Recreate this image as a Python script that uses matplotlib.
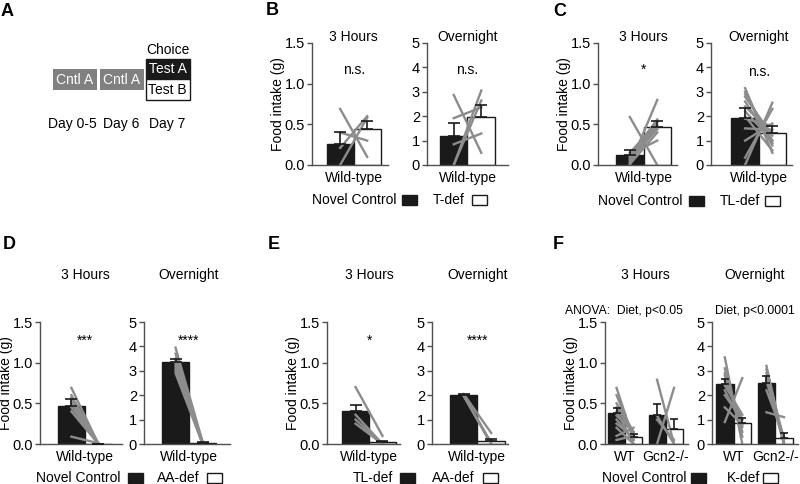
import numpy as np
import matplotlib.pyplot as plt
from matplotlib.patches import Rectangle

plt.rcParams['font.family'] = ['Liberation Sans', 'DejaVu Sans']
plt.rcParams['font.size'] = 10

BLACK = '#1a1a1a'
GREY = '#8c8c8c'
BOXGREY = '#808080'
AXC = '#505050'
W, H = 800, 484

# ---------------- data: food intake (g) ----------------
# B  novel control vs T-def, wild-type
b3_mean = [0.26, 0.44]
b3_err = [0.14, 0.10]
b3_ctrl = [0.69, 0.00, 0.21, 0.40]
b3_test = [0.10, 0.58, 0.60, 0.30]
bon_mean = [1.18, 1.98]
bon_err = [0.55, 0.47]
bon_ctrl = [2.87, 0.00, 1.92, 0.85, 0.00]
bon_test = [0.50, 2.64, 2.36, 1.29, 3.05]

# C  novel control vs TL-def
c3_mean = [0.12, 0.47]
c3_err = [0.07, 0.07]
c3_ctrl = [0.59, 0.00, 0.03, 0.07, 0.09, 0.13, 0.11, 0.05, 0.01, 0.15]
c3_test = [0.00, 0.80, 0.54, 0.44, 0.49, 0.30, 0.56, 0.46, 0.40, 0.52]
con_mean = [1.92, 1.33]
con_err = [0.40, 0.27]
con_ctrl = [3.15, 3.0, 2.9, 2.8, 2.6, 2.4, 2.2, 1.9, 1.5, 0.0, 0.3, 1.0, 2.0]
con_test = [0.5, 0.8, 1.0, 1.2, 0.9, 1.3, 1.0, 1.6, 1.45, 2.55, 2.3, 1.7, 0.6]

# D  novel control vs AA-def
d3_mean = [0.47, 0.0]
d3_err = [0.08, 0.0]
d3_ctrl = [0.69, 0.60, 0.57, 0.52, 0.45, 0.40, 0.09, 0.50]
d3_test = [0.0, 0.0, 0.0, 0.0, 0.0, 0.0, 0.01, 0.0]
don_mean = [3.35, 0.05]
don_err = [0.15, 0.02]
don_ctrl = [3.95, 3.7, 3.5, 3.4, 3.3, 3.2, 3.1, 3.0, 2.9]
don_test = [0.10, 0.05, 0.0, 0.05, 0.08, 0.0, 0.05, 0.10, 0.02]

# E  TL-def vs AA-def
e3_mean = [0.40, 0.02]
e3_err = [0.08, 0.02]
e3_ctrl = [0.70, 0.30, 0.36, 0.25]
e3_test = [0.10, 0.0, 0.0, 0.0]
eon_mean = [2.0, 0.12]
eon_err = [0.05, 0.08]
eon_ctrl = [2.05, 2.0, 1.98, 1.97]
eon_test = [0.45, 0.05, 0.0, 0.0]

# F  novel control vs K-def, WT and Gcn2-/-
f3_mean = [0.38, 0.08, 0.36, 0.18]
f3_err = [0.06, 0.04, 0.13, 0.13]
f3_wt_ctrl = [0.69, 0.6, 0.5, 0.45, 0.4, 0.35, 0.3, 0.25, 0.2, 0.1, 0.05]
f3_wt_test = [0.05, 0.1, 0.15, 0.1, 0.0, 0.15, 0.05, 0.08, 0.0, 0.2, 0.1]
f3_ko_ctrl = [0.79, 0.0, 0.30, 0.35]
f3_ko_test = [0.0, 0.69, 0.05, 0.0]
fon_mean = [2.45, 0.85, 2.52, 0.24]
fon_err = [0.20, 0.22, 0.28, 0.21]
fon_wt_ctrl = [3.55, 3.1, 2.9, 2.8, 2.6, 2.4, 2.2, 2.0, 1.5, 0.9]
fon_wt_test = [0.0, 0.3, 0.5, 0.7, 1.0, 1.2, 0.8, 1.0, 0.8, 2.7]
fon_ko_ctrl = [3.2, 3.05, 2.9, 2.75, 2.6, 2.2, 1.3]
fon_ko_test = [0.0, 0.1, 0.2, 0.0, 0.0, 0.3, 1.1]

fig = plt.figure(figsize=(8, 4.84), dpi=100)


def px_axes(x0, x1, y0, y1):
    return fig.add_axes([x0 / W, 1 - y1 / H, (x1 - x0) / W, (y1 - y0) / H])


def bar_panel(box, xlim, xs, means, errs, pairs, ymax, cats, catx,
              capsize=4.5, ylabel=False):
    ax = px_axes(*box)
    cols = [BLACK, 'white'] * (len(xs) // 2)
    ax.bar(xs, means, width=1, color=cols, edgecolor=BLACK, linewidth=1, zorder=1)
    for ctrl, test, xa, xb in pairs:
        for a, b in zip(ctrl, test):
            ax.plot([xa, xb], [a, b], color=GREY, lw=1.7, zorder=2)
    ax.errorbar(xs, means, yerr=[np.zeros(len(xs)), errs], fmt='none',
                ecolor=BLACK, elinewidth=1.2, capsize=capsize, capthick=1.2, zorder=3)
    ax.set_xlim(xlim)
    ax.set_ylim(0, ymax)
    if ymax < 2:
        ax.set_yticks([0, 0.5, 1.0, 1.5])
        ax.set_yticklabels(['0.0', '0.5', '1.0', '1.5'])
    else:
        ax.set_yticks(range(6))
    ax.set_xticks(catx)
    ax.set_xticklabels(cats)
    for s in ['top', 'right']:
        ax.spines[s].set_visible(False)
    for s in ['left', 'bottom']:
        ax.spines[s].set_color(AXC)
        ax.spines[s].set_linewidth(1)
    ax.tick_params(axis='y', direction='out', length=3.5, width=1, color=AXC,
                   pad=1.5, labelsize=10.5)
    ax.tick_params(axis='x', length=0, pad=4)
    if ylabel:
        ax.set_ylabel('Food intake (g)')
        ax.yaxis.set_label_coords(-27 / (box[1] - box[0]), 0.5)
    return ax


def note(ax, x, yfrac, s, va='center', size=10):
    ax.text(x, yfrac, s, transform=ax.get_xaxis_transform(), ha='center',
            va=va, fontsize=size, clip_on=False)


top = (43, 165)
bot = (322, 444)
two = [0, 1]
four = [0, 1, 2.38, 3.38]

# ---- B ----
ax = bar_panel((312, 388) + top, (-1.04, 1.77), two, b3_mean, b3_err,
               [(b3_ctrl, b3_test, 0, 1)], 1.5, ['Wild-type'], [0.5], ylabel=True)
note(ax, 0.5, 1.053, '3 Hours')
note(ax, 0.5, 0.775, 'n.s.')
ax = bar_panel((427, 508) + top, (-0.97, 1.97), two, bon_mean, bon_err,
               [(bon_ctrl, bon_test, 0, 1)], 5, ['Wild-type'], [0.5])
note(ax, 0.5, 1.053, 'Overnight')
note(ax, 0.5, 0.775, 'n.s.')

# ---- C ----
ax = bar_panel((598, 677) + top, (-1.16, 1.72), two, c3_mean, c3_err,
               [(c3_ctrl, c3_test, 0, 1)], 1.5, ['Wild-type'], [0.5], ylabel=True)
note(ax, 0.5, 1.053, '3 Hours')
note(ax, 0.5, 0.748, '*', va='baseline')
ax = bar_panel((711, 792) + top, (-1.25, 1.72), two, con_mean, con_err,
               [(con_ctrl, con_test, 0, 1)], 5, ['Wild-type'], [0.5])
note(ax, 0.5, 1.053, 'Overnight')
note(ax, 0.5, 0.765, 'n.s.')

# ---- D ----
ax = bar_panel((40, 122) + bot, (-1.16, 1.87), two, d3_mean, d3_err,
               [(d3_ctrl, d3_test, 0, 1)], 1.5, ['Wild-type'], [0.5], ylabel=True)
note(ax, 0.5, 1.385, '3 Hours')
note(ax, 0.5, 0.814, '***', va='baseline')
ax = bar_panel((144, 230) + bot, (-1.17, 2.02), two, don_mean, don_err,
               [(don_ctrl, don_test, 0, 1)], 5, ['Wild-type'], [0.5])
note(ax, 0.5, 1.385, 'Overnight')
note(ax, 0.5, 0.814, '****', va='baseline')

# ---- E ----
ax = bar_panel((327, 400) + bot, (-1.06, 1.65), two, e3_mean, e3_err,
               [(e3_ctrl, e3_test, 0, 1)], 1.5, ['Wild-type'], [0.5], ylabel=True)
note(ax, 0.5, 1.385, '3 Hours')
note(ax, 0.5, 0.814, '*', va='baseline')
ax = bar_panel((432, 508) + bot, (-1.15, 1.61), two, eon_mean, eon_err,
               [(eon_ctrl, eon_test, 0, 1)], 5, ['Wild-type'], [0.5])
note(ax, 0.5, 1.385, 'Overnight')
note(ax, 0.5, 0.814, '****', va='baseline')

# ---- F ----
ax = bar_panel((605, 688) + bot, (-0.68, 4.2), four, f3_mean, f3_err,
               [(f3_wt_ctrl, f3_wt_test, 0, 1), (f3_ko_ctrl, f3_ko_test, 2.38, 3.38)],
               1.5, ['WT', 'Gcn2-/-'], [0.5, 2.88], capsize=3, ylabel=True)
note(ax, 1.69, 1.385, '3 Hours')
ax = bar_panel((712, 798) + bot, (-0.73, 4.18), four, fon_mean, fon_err,
               [(fon_wt_ctrl, fon_wt_test, 0, 1), (fon_ko_ctrl, fon_ko_test, 2.38, 3.38)],
               5, ['WT', 'Gcn2-/-'], [0.5, 2.88], capsize=3)
note(ax, 1.69, 1.385, 'Overnight')

# ---- overlay in pixel coordinates: panel A, letters, legends ----
ov = fig.add_axes([0, 0, 1, 1])
ov.set_xlim(0, W)
ov.set_ylim(H, 0)
ov.axis('off')

for x0 in [53, 100]:
    ov.add_patch(Rectangle((x0, 69), 43.5, 21, color=BOXGREY, lw=0))
    ov.text(x0 + 21.75, 79.5, 'Cntl A', color='white', ha='center', va='center')
ov.add_patch(Rectangle((146, 59), 43.5, 20, facecolor=BLACK, edgecolor=BLACK, lw=1))
ov.add_patch(Rectangle((146, 79), 43.5, 21, facecolor='white', edgecolor=BLACK, lw=1))
ov.text(167.75, 69, 'Test A', color='white', ha='center', va='center')
ov.text(167.75, 89.5, 'Test B', ha='center', va='center')
ov.text(167.5, 50, 'Choice', ha='center', va='center')
for x, s in [(72, 'Day 0-5'), (121, 'Day 6'), (167, 'Day 7')]:
    ov.text(x, 124, s, ha='center', va='center')

for x, y, s in [(1, 3, 'A'), (266, 2, 'B'), (553, 3, 'C'),
                (3, 236, 'D'), (268, 236, 'E'), (553, 236, 'F')]:
    ov.text(x, y, s, fontsize=13, fontweight='bold', ha='left', va='top')

ov.text(565, 311, 'ANOVA:  Diet, p<0.05', fontsize=8.7, ha='left', va='center')
ov.text(715, 311, 'Diet, p<0.0001', fontsize=8.7, ha='left', va='center')


def legend_pair(y, text1, right1, sq1, text2, left2, sq2):
    ov.text(right1, y, text1, ha='right', va='center')
    ov.add_patch(Rectangle((sq1, y - 5), 15, 10, facecolor=BLACK, edgecolor=BLACK, lw=1))
    ov.text(left2, y, text2, ha='left', va='center')
    ov.add_patch(Rectangle((sq2, y - 5), 15, 10, facecolor='white', edgecolor=BLACK, lw=1))


legend_pair(200, 'Novel Control', 396, 402, 'T-def', 433, 472)
legend_pair(201, 'Novel Control', 682, 689, 'TL-def', 720, 765)
legend_pair(478, 'Novel Control', 121, 128, 'AA-def', 157, 207)
legend_pair(478, 'TL-def', 393, 400, 'AA-def', 432, 483)
legend_pair(478, 'Novel Control', 686, 691, 'K-def', 727, 763)

fig.savefig('out.png', dpi=100)
